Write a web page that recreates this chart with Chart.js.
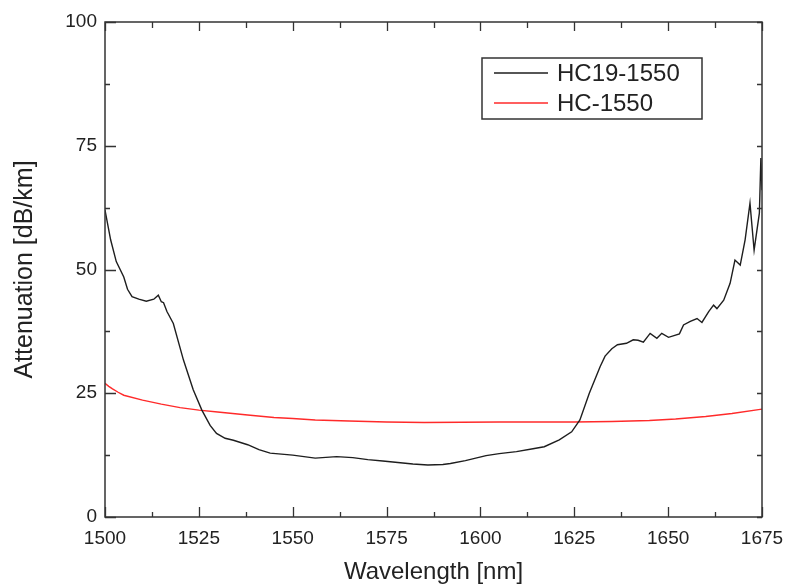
<!DOCTYPE html>
<html>
<head>
<meta charset="utf-8">
<title>Attenuation</title>
<script src="https://cdn.jsdelivr.net/npm/chart.js@4.4.1/dist/chart.umd.min.js"></script>
<style>
  body { margin: 0; background: #fff; }
  canvas { display: block; }
</style>
</head>
<body>
<canvas id="attChart" width="788" height="588"></canvas>
<script>
// HC19-1550 (black)
const hc19Wavelength = [1500, 1501.5, 1503, 1505, 1506, 1507.2, 1509, 1511, 1513, 1514.2, 1515, 1515.6, 1516.5, 1518.2,
  1520.9, 1523.5, 1525.8, 1528, 1529.7, 1532, 1534.2, 1538, 1541, 1544, 1550, 1556, 1561.7, 1566, 1570, 1574,
  1578, 1582, 1586, 1590, 1592, 1596, 1601.5, 1605, 1609.6, 1614, 1617, 1621, 1624.3, 1626.5, 1629, 1631.9,
  1633.2, 1635, 1636.5, 1638.9, 1640.7, 1642, 1643.4, 1645.2, 1647, 1648.3, 1650.1, 1653, 1654.1, 1655.9,
  1657.7, 1659, 1660.8, 1662.1, 1663, 1664.8, 1666.5, 1667.8, 1669.2, 1670.5, 1671.8, 1672.9, 1674.3, 1674.7, 1675];
const hc19Atten = [62, 56, 51.6, 48.5, 46, 44.5, 44, 43.6, 44, 44.8, 43.5, 43.3, 41.5, 39.1,
  31.7, 25.7, 21.6, 18.5, 16.9, 15.9, 15.5, 14.6, 13.6, 12.9, 12.5, 11.9, 12.2, 12.0, 11.6, 11.3,
  11.0, 10.7, 10.5, 10.6, 10.8, 11.4, 12.4, 12.8, 13.2, 13.8, 14.2, 15.6, 17.2, 19.6, 25, 30.4,
  32.5, 34, 34.8, 35.1, 35.8, 35.7, 35.3, 37.1, 36.1, 37.1, 36.3, 37.0, 38.8, 39.5,
  40.1, 39.3, 41.5, 42.8, 42.1, 43.8, 47.2, 51.9, 50.9, 56.0, 63.4, 53.9, 61.4, 72.5, 66];

// HC-1550 (red)
const hcWavelength = [1500, 1501, 1502, 1503.5, 1505, 1510, 1515, 1520, 1525, 1530, 1538, 1545, 1550, 1556, 1565, 1575,
  1585, 1595, 1605, 1615, 1625, 1635, 1645, 1652, 1660, 1667, 1675];
const hcAtten = [27.0, 26.4, 25.9, 25.2, 24.6, 23.6, 22.8, 22.1, 21.6, 21.2, 20.6, 20.1, 19.9, 19.6, 19.4, 19.2,
  19.1, 19.15, 19.2, 19.2, 19.2, 19.3, 19.5, 19.8, 20.3, 20.9, 21.8];

const seriesNames = ['HC19-1550', 'HC-1550'];
const xTicks = [1500, 1525, 1550, 1575, 1600, 1625, 1650, 1675];
const yTicks = [0, 25, 50, 75, 100];

const FONT = '"Liberation Sans", Arial, Helvetica, sans-serif';

function toPoints(xs, ys) {
  return xs.map((x, i) => ({ x: x, y: ys[i] }));
}

// frame with inward major/minor ticks on all four sides
const framePlugin = {
  id: 'frame',
  afterDatasetsDraw(chart) {
    const { ctx, chartArea: a, scales } = chart;
    ctx.save();
    ctx.strokeStyle = '#333';
    ctx.lineWidth = 1.5;
    ctx.strokeRect(a.left, a.top, a.right - a.left, a.bottom - a.top);
    ctx.lineWidth = 1.3;
    ctx.beginPath();
    for (let v = xTicks[0]; v <= xTicks[xTicks.length - 1]; v += 12.5) {
      const px = Math.round(scales.x.getPixelForValue(v)) + 0.5;
      const major = v % 25 === 0;
      ctx.moveTo(px, a.bottom); ctx.lineTo(px, a.bottom - (major ? 10 : 5));
      ctx.moveTo(px, a.top); ctx.lineTo(px, a.top + (major ? 9 : 6));
    }
    for (let v = yTicks[0]; v <= yTicks[yTicks.length - 1]; v += 12.5) {
      const py = Math.round(scales.y.getPixelForValue(v)) + 0.5;
      const major = v % 25 === 0;
      ctx.moveTo(a.left, py); ctx.lineTo(a.left + (major ? 11 : 5), py);
      ctx.moveTo(a.right, py); ctx.lineTo(a.right - 5, py);
    }
    ctx.stroke();
    ctx.restore();
  }
};

// boxed legend inside the plot
const legendBoxPlugin = {
  id: 'legendBox',
  afterDraw(chart) {
    const { ctx, chartArea: a } = chart;
    const bx = a.right - 280, by = a.top + 36, bw = 220, bh = 61;
    ctx.save();
    ctx.fillStyle = '#fff';
    ctx.fillRect(bx, by, bw, bh);
    ctx.strokeStyle = '#333';
    ctx.lineWidth = 1.5;
    ctx.strokeRect(bx, by, bw, bh);
    ctx.font = '24px ' + FONT;
    ctx.textBaseline = 'middle';
    chart.data.datasets.forEach((ds, i) => {
      const y = by + 15 + i * 30;
      ctx.strokeStyle = ds.borderColor;
      ctx.lineWidth = 1.5;
      ctx.beginPath();
      ctx.moveTo(bx + 12, y);
      ctx.lineTo(bx + 66, y);
      ctx.stroke();
      ctx.fillStyle = '#222';
      ctx.fillText(ds.label, bx + 75, y + 1.5);
    });
    ctx.restore();
  }
};

const bgPlugin = {
  id: 'bg',
  beforeDraw(chart) {
    const ctx = chart.ctx;
    ctx.save();
    ctx.fillStyle = '#fff';
    ctx.fillRect(0, 0, chart.width, chart.height);
    ctx.restore();
  }
};

new Chart(document.getElementById('attChart'), {
  type: 'line',
  data: {
    datasets: [
      {
        label: seriesNames[0],
        data: toPoints(hc19Wavelength, hc19Atten),
        borderColor: '#1e1e1e',
        borderWidth: 1.4,
        pointRadius: 0,
        tension: 0
      },
      {
        label: seriesNames[1],
        data: toPoints(hcWavelength, hcAtten),
        borderColor: '#ff2a2a',
        borderWidth: 1.4,
        pointRadius: 0,
        tension: 0
      }
    ]
  },
  options: {
    responsive: false,
    animation: false,
    devicePixelRatio: 1,
    layout: { padding: { top: 22, right: 26, left: 0, bottom: 0 } },
    plugins: {
      legend: { display: false },
      tooltip: { enabled: false }
    },
    scales: {
      x: {
        type: 'linear',
        min: 1500,
        max: 1675,
        afterFit(scale) {
          scale.height = 71;
          scale.paddingLeft = 0;
          scale.paddingRight = 0;
        },
        afterBuildTicks(scale) { scale.ticks = xTicks.map(v => ({ value: v })); },
        grid: { display: false, drawTicks: false },
        border: { display: false },
        ticks: {
          padding: 10,
          color: '#222',
          font: { family: FONT, size: 19 },
          callback: v => String(v)
        },
        title: {
          display: true,
          text: 'Wavelength [nm]',
          color: '#222',
          padding: { top: 1, bottom: 1 },
          font: { family: FONT, size: 24 }
        }
      },
      y: {
        min: 0,
        max: 100,
        afterFit(scale) {
          scale.width = 105;
          scale.paddingTop = 0;
          scale.paddingBottom = 0;
        },
        afterBuildTicks(scale) { scale.ticks = yTicks.map(v => ({ value: v })); },
        grid: { display: false, drawTicks: false },
        border: { display: false },
        ticks: {
          padding: 8,
          color: '#222',
          font: { family: FONT, size: 19 },
          callback: v => String(v)
        },
        title: {
          display: true,
          text: 'Attenuation [dB/km]',
          color: '#222',
          padding: { top: 10, bottom: 10 },
          font: { family: FONT, size: 25 }
        }
      }
    }
  },
  plugins: [bgPlugin, framePlugin, legendBoxPlugin]
});
</script>
</body>
</html>
